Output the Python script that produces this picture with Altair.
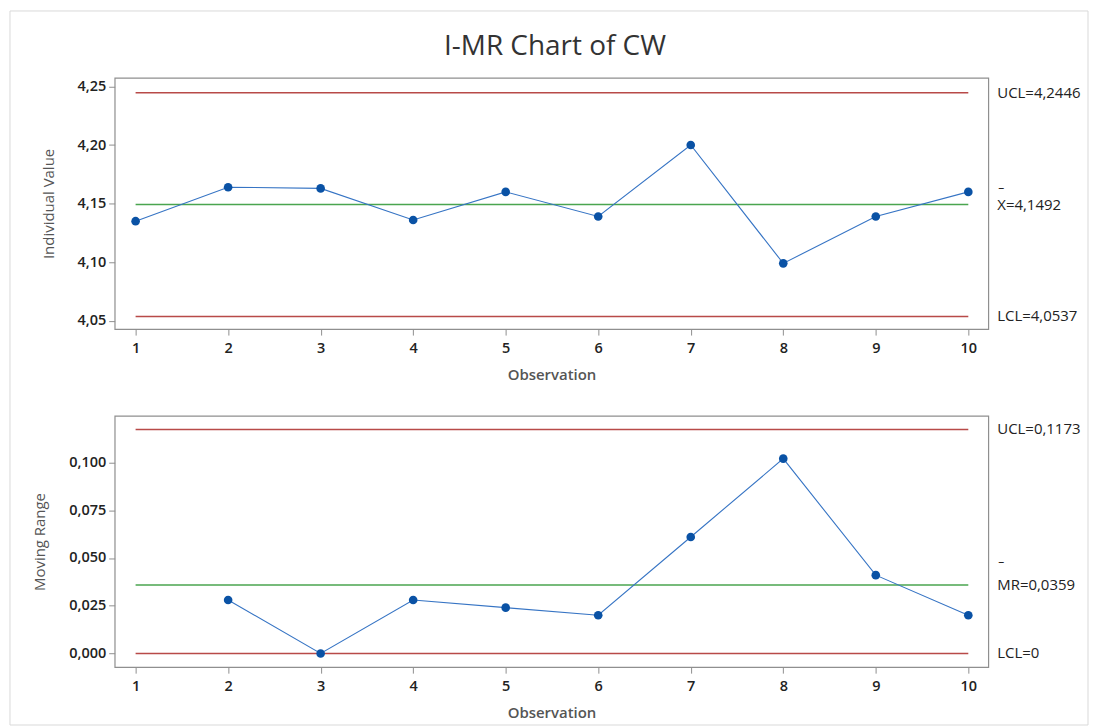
import altair as alt
import pandas as pd

# Observations and measured CW values
observation = list(range(1, 11))
individual_value = [4.135, 4.164, 4.163, 4.136, 4.160, 4.139, 4.200, 4.099, 4.139, 4.160]

# Moving ranges (first one is undefined)
mr_observation = list(range(2, 11))
moving_range = [0.028, 0.000, 0.028, 0.024, 0.020, 0.061, 0.102, 0.041, 0.020]

# Control limits
i_limit_names = ["UCL", "X", "LCL"]
i_limit_values = [4.2446, 4.1492, 4.0537]
mr_limit_names = ["UCL", "MR", "LCL"]
mr_limit_values = [0.1173, 0.0359, 0.0]

i_ticks = [4.05, 4.10, 4.15, 4.20, 4.25]
mr_ticks = [0.0, 0.025, 0.05, 0.075, 0.1]

FONT = "Open Sans"
RED = "#b84a48"
GREEN = "#4aa54f"
LINE_BLUE = "#3674c4"
DOT_BLUE = "#0a52a5"
W, H = 876, 252

x_scale = alt.Scale(domain=[0.774, 10.216], nice=False, zero=False)


def fmt(v):
    s = f"{v:.4f}".rstrip("0").rstrip(".")
    return s.replace(".", ",")


def panel(xs, ys, names, limits, y_domain, ticks, decimals, y_title, bar_dy):
    pts = pd.DataFrame({"obs": xs, "val": ys})
    lim = pd.DataFrame({
        "name": names,
        "value": limits,
        "kind": ["limit", "center", "limit"],
        "start": 1,
        "end": 10,
        "label": [f"{n}={fmt(v)}" for n, v in zip(names, limits)],
    })
    y_scale = alt.Scale(domain=y_domain, nice=False, zero=False)
    x_enc = alt.X(
        "obs:Q", scale=x_scale, title="Observation",
        axis=alt.Axis(values=observation, format="d"),
    )
    y_enc = alt.Y(
        "val:Q", scale=y_scale, title=y_title,
        axis=alt.Axis(
            values=ticks,
            labelExpr=f"replace(format(datum.value, '.{decimals}f'), '.', ',')",
        ),
    )
    rules = alt.Chart(lim).mark_rule(strokeWidth=1.5).encode(
        x=alt.X("start:Q", scale=x_scale),
        x2="end:Q",
        y=alt.Y("value:Q", scale=y_scale),
        color=alt.Color("kind:N", scale=alt.Scale(domain=["limit", "center"], range=[RED, GREEN]), legend=None),
    )
    line = alt.Chart(pts).mark_line(color=LINE_BLUE, strokeWidth=1.1).encode(x=x_enc, y=y_enc)
    dots = alt.Chart(pts).mark_circle(color=DOT_BLUE, size=75, opacity=1).encode(x="obs:Q", y="val:Q")
    labels = alt.Chart(lim).mark_text(
        align="left", baseline="middle", font=FONT, fontSize=15, color="#222"
    ).encode(x=alt.value(W + 9), y=alt.Y("value:Q", scale=y_scale), text="label:N")
    # short bar drawn over the centre-line symbol
    bar = alt.Chart(lim[lim["kind"] == "center"]).mark_text(
        align="left", baseline="middle", font=FONT, fontSize=12, color="#222", dy=bar_dy
    ).encode(x=alt.value(W + 10), y=alt.Y("value:Q", scale=y_scale), text=alt.value("–"))
    return [rules, line, dots, labels, bar]


top_layers = panel(observation, individual_value, i_limit_names, i_limit_values,
                   [4.0429, 4.2574], i_ticks, 2, "Individual Value", -17)
bottom_layers = panel(mr_observation, moving_range, mr_limit_names, mr_limit_values,
                      [-0.00716, 0.1244], mr_ticks, 3, "Moving Range", -23)

frame = alt.Chart(pd.DataFrame({"f": [0]})).mark_rect(
    fillOpacity=0, stroke="#d9d9d9", strokeWidth=1
).encode(x=alt.value(-105), x2=alt.value(976), y=alt.value(-67), y2=alt.value(649))

heading = alt.Chart(pd.DataFrame({"t": ["I-MR Chart of CW"]})).mark_text(
    font=FONT, fontSize=28, color="#333", align="center", baseline="middle"
).encode(x=alt.value(441.5), y=alt.value(-31), text="t:N")

top = alt.layer(frame, heading, *top_layers).properties(width=W, height=H)
bottom = alt.layer(*bottom_layers).properties(width=W, height=H)

chart = alt.vconcat(
    top, bottom, spacing=87, bounds="flush",
    padding={"left": 8, "top": 8, "right": 3, "bottom": 0},
).configure_view(
    stroke="#8f8f8f", strokeWidth=1.2
).configure_axis(
    grid=False, domain=False,
    tickColor="#8f8f8f", tickSize=6, tickWidth=1,
    labelFont=FONT, labelFontSize=14.5, labelFontWeight=600, labelColor="#222",
    labelPadding=3,
    titleFont=FONT, titleFontSize=15, titleColor="#555", titleFontWeight="normal",
).configure_axisX(
    labelPadding=6, titlePadding=13, titleFontWeight=600, labelFlush=False,
).configure_axisY(
    titlePadding=21,
)

chart.save("out.html", embed_options={"renderer": "svg", "actions": False})
